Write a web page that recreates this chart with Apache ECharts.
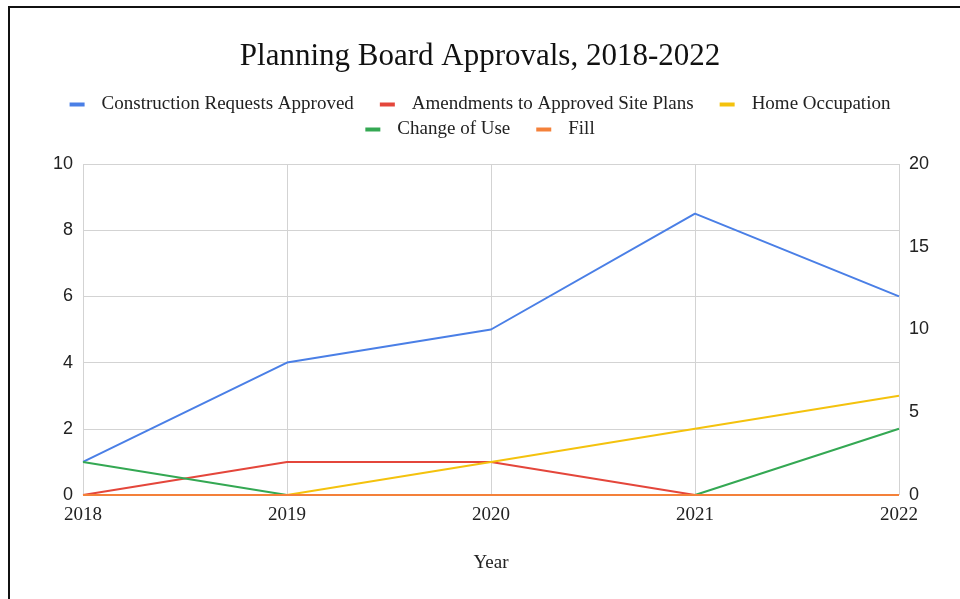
<!DOCTYPE html>
<html>
<head>
<meta charset="utf-8">
<script src="https://cdn.jsdelivr.net/npm/echarts@6/dist/echarts.min.js"></script>
<style>
  html, body { margin: 0; padding: 0; background: #fff; }
  #chart { width: 960px; height: 599px; }
</style>
</head>
<body>
<div id="chart"></div>
<script>
// Years on the horizontal axis
const years = ['2018', '2019', '2020', '2021', '2022'];

// Yearly counts per approval type
const constructionRequests = [2, 8, 10, 17, 12];   // plotted on the right axis
const amendmentsSitePlans = [0, 1, 1, 0, 0];
const homeOccupation = [0, 0, 1, 2, 3];
const changeOfUse = [1, 0, 0, 0, 2];
const fill = [0, 0, 0, 0, 0];

// Axis ranges
const leftAxisMax = 10, leftAxisStep = 2;
const rightAxisMax = 20, rightAxisStep = 5;

const serif = '"Liberation Serif", "Times New Roman", serif';
const sans = '"Liberation Sans", Arial, sans-serif';

const chart = echarts.init(document.getElementById('chart'), null, { renderer: 'canvas' });

function line(name, data, color, yAxisIndex) {
  return {
    name: name,
    type: 'line',
    data: data,
    yAxisIndex: yAxisIndex,
    symbol: 'none',
    lineStyle: { width: 2, color: color },
    itemStyle: { color: color },
    emphasis: { disabled: true }
  };
}

const legendText = { fontFamily: serif, fontSize: 19, color: '#222', padding: [0, 0, 0, 12] };

chart.setOption({
  animation: false,
  backgroundColor: '#fff',
  title: {
    text: 'Planning Board Approvals, 2018-2022',
    left: 'center',
    top: 36,
    textStyle: { fontFamily: serif, fontSize: 31, fontWeight: 'normal', color: '#111' }
  },
  legend: [
    {
      data: ['Construction Requests Approved', 'Amendments to Approved Site Plans', 'Home Occupation'],
      left: 'center', top: 90,
      itemWidth: 15, itemHeight: 4, itemGap: 26,
      icon: 'rect',
      textStyle: legendText
    },
    {
      data: ['Change of Use', 'Fill'],
      left: 'center', top: 115,
      itemWidth: 15, itemHeight: 4, itemGap: 26,
      icon: 'rect',
      textStyle: legendText
    }
  ],
  grid: { left: 83, right: 61, top: 164, bottom: 104, containLabel: false },
  xAxis: {
    type: 'category',
    data: years,
    boundaryGap: false,
    name: 'Year',
    nameLocation: 'middle',
    nameGap: 59,
    nameTextStyle: { fontFamily: serif, fontSize: 19, color: '#222' },
    axisLine: { show: false },
    axisTick: { show: false },
    axisLabel: { fontFamily: serif, fontSize: 19, color: '#222', margin: 11 },
    splitLine: { show: true, lineStyle: { color: '#d3d3d3', width: 1 } }
  },
  yAxis: [
    {
      type: 'value',
      min: 0, max: leftAxisMax, interval: leftAxisStep,
      position: 'left',
      axisLine: { show: false },
      axisTick: { show: false },
      axisLabel: { fontFamily: sans, fontSize: 18, color: '#222', margin: 10 },
      splitLine: { show: true, lineStyle: { color: '#d3d3d3', width: 1 } }
    },
    {
      type: 'value',
      min: 0, max: rightAxisMax, interval: rightAxisStep,
      position: 'right',
      axisLine: { show: false },
      axisTick: { show: false },
      axisLabel: { fontFamily: sans, fontSize: 18, color: '#222', margin: 10 },
      splitLine: { show: false }
    }
  ],
  series: [
    line('Construction Requests Approved', constructionRequests, '#4a7fe6', 1),
    line('Amendments to Approved Site Plans', amendmentsSitePlans, '#e4463b', 0),
    line('Home Occupation', homeOccupation, '#f4c20d', 0),
    line('Change of Use', changeOfUse, '#34a853', 0),
    line('Fill', fill, '#f4813a', 0)
  ],
  graphic: [
    // frame: top and left edges
    { type: 'line', shape: { x1: 8, y1: 7, x2: 960, y2: 7 }, style: { stroke: '#111', lineWidth: 2 }, silent: true },
    { type: 'line', shape: { x1: 9, y1: 6, x2: 9, y2: 599 }, style: { stroke: '#111', lineWidth: 2 }, silent: true }
  ]
});
</script>
</body>
</html>
